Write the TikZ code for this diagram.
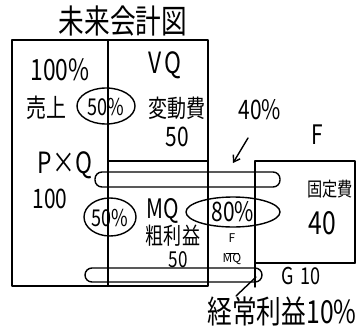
\documentclass[tikz,border=0pt]{standalone}
\usepackage{fontspec}
\setmainfont{Noto Sans CJK JP}
\usetikzlibrary{arrows.meta}
\newcommand\tallt[1]{\scalebox{0.95}[1.22]{#1}}
\begin{document}
\begin{tikzpicture}[x=1pt,y=-1pt,line width=1.4pt,line cap=round,line join=round,
  txt/.style={inner sep=0pt,font=\fontsize{#1}{#1}\selectfont},
  capsule/.style={rounded corners=7pt},
  pointer/.style={-{Straight Barb[length=6pt,width=8pt]}}]
\fill[white] (0,0) rectangle (363,332);
\useasboundingbox (0,0) rectangle (363,332);
% title
\node[txt=27] (title) at (123,21) {\tallt{未来会計図}};
% main box
\draw (12,40) rectangle (208,286);
\draw (108,40) -- (108,286);
\draw (108,161) -- (208,161);
% F box and G box
\draw (255,287) -- (255,161) -- (355,161) -- (355,263);
\draw (255,263) -- (355,263);
% capsules
\draw[capsule] (95,172) rectangle (280,187);
\draw[capsule] (85,268) rectangle (262,282);
% left column texts
\node[txt=24] (pct100) at (60,70) {\tallt{100\%}};
\node[txt=21] (uri) at (46,108) {\tallt{売上}};
\node[txt=24] (pq) at (65,165) {\tallt{P×Q}};
\node[txt=22] (v100) at (50,199) {\tallt{100}};
% VQ texts
\node[txt=24] (vq) at (165,65) {\tallt{V\,Q}};
\node[txt=20] (hendo) at (177,108) {\tallt{変動費}};
\node[txt=22] (v50a) at (177,137) {\tallt{50}};
\node[txt=19] (p50a) at (106,107) {\tallt{50\%}};
\draw (106,106) ellipse [x radius=29pt,y radius=18pt];
% MQ texts
\node[txt=19] (p50b) at (110,218) {\tallt{50\%}};
\draw (110,217) ellipse [x radius=26pt,y radius=19pt];
\node[txt=22] (mq) at (163,211) {\tallt{MQ}};
\node[txt=19] (ara) at (173,236) {\tallt{粗利益}};
\node[txt=18] (v50b) at (178,260) {\tallt{50}};
% 80%
\node[txt=22] (p80) at (233,212) {\tallt{80\%}};
\draw (233,212) ellipse [x radius=47pt,y radius=15pt];
\node[txt=12,align=center] (fmq) at (232,249) {F\\[-1pt]\rule{13pt}{0.6pt}\\[-3pt]MQ};
% right side
\node[txt=22] (p40) at (260,110) {\tallt{40\%}};
\coordinate (a1s) at (248,138);
\coordinate (a1e) at (233,163);
\draw[pointer] (a1s) -- (a1e);
\node[txt=22] (F) at (317,135) {\tallt{F}};
\node[txt=16] (kotei) at (330,189) {\tallt{固定費}};
\node[txt=26] (v40) at (322,223) {\tallt{40}};
\node[txt=19] (g10) at (301,276) {\tallt{G\,\,10}};
% bottom
\node[txt=26] (keijo) at (282,311) {\tallt{経常利益10\%}};
\coordinate (a2s) at (236,296);
\coordinate (a2e) at (256,277);
\draw (a2s) -- (a2e);
\end{tikzpicture}
\end{document}
